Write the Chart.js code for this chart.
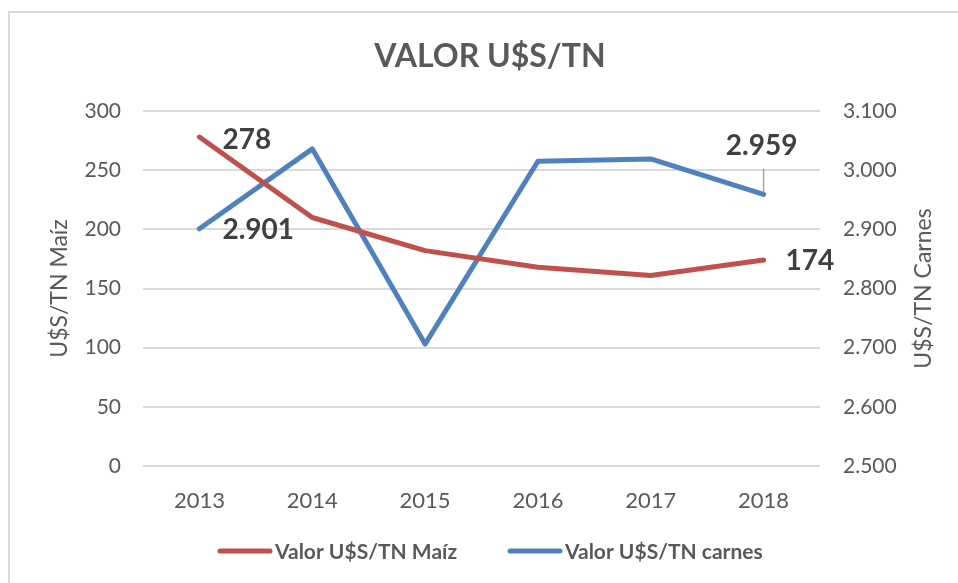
<!DOCTYPE html>
<html lang="es">
<head>
<meta charset="UTF-8">
<title>Valor U$S/TN</title>
<script src="https://cdn.jsdelivr.net/npm/chart.js"></script>
<style>
  html, body { margin: 0; padding: 0; background: #fff; }
  #wrap { width: 958px; height: 583px; }
</style>
</head>
<body>
<div id="wrap"><canvas id="chart" width="958" height="583"></canvas></div>
<script>
  const years = ['2013', '2014', '2015', '2016', '2017', '2018'];
  const maiz = [278, 210, 182, 168, 161, 174];
  const carnes = [2901, 3036, 2706, 3015, 3019, 2959];
  const maizTicks = [0, 300, 50];       // min, max, step
  const carnesTicks = [2500, 3100, 100];

  const RED = '#C0504D';
  const BLUE = '#4F81BD';
  const TXT = '#595959';
  const GRID = '#d9d9d9';
  const FONT = 'Lato, "Open Sans", sans-serif';

  const fmt = v => String(v).replace(/\B(?=(\d{3})+(?!\d))/g, '.');

  // title, axis titles, value labels, legend and frame
  const decor = {
    id: 'decor',
    afterDraw(chart) {
      const ctx = chart.ctx;
      const a = chart.chartArea;
      ctx.save();

      ctx.strokeStyle = GRID;
      ctx.lineWidth = 2;
      ctx.beginPath();
      ctx.moveTo(9, 583); ctx.lineTo(9, 12); ctx.lineTo(958, 12);
      ctx.stroke();

      ctx.fillStyle = TXT;
      ctx.textAlign = 'center';
      ctx.textBaseline = 'middle';
      ctx.font = 'bold 32px ' + FONT;
      ctx.fillText('VALOR U$S/TN', 490, 57);

      const midY = (a.top + a.bottom) / 2;
      ctx.font = '23px ' + FONT;
      [[60, 'U$S/TN Maíz'], [924, 'U$S/TN Carnes']].forEach(([x, t]) => {
        ctx.save();
        ctx.translate(x, midY);
        ctx.rotate(-Math.PI / 2);
        ctx.fillText(t, 0, 0);
        ctx.restore();
      });

      // value labels
      ctx.font = 'bold 28px ' + FONT;
      ctx.fillStyle = '#404040';
      const pt = (d, i) => chart.getDatasetMeta(d).data[i];
      const labels = [
        { d: 0, i: 0, dx: 23, dy: 3, align: 'left' },
        { d: 1, i: 0, dx: 23, dy: 1, align: 'left' },
        { d: 1, i: 5, dx: -2, dy: -48, align: 'center', leader: true },
        { d: 0, i: 5, dx: 22, dy: 1, align: 'left' }
      ];
      labels.forEach(l => {
        const p = pt(l.d, l.i);
        const v = chart.data.datasets[l.d].data[l.i];
        ctx.textAlign = l.align;
        ctx.fillText(fmt(v), p.x + l.dx, p.y + l.dy);
        if (l.leader) {
          ctx.strokeStyle = '#a6a6a6';
          ctx.lineWidth = 1.5;
          ctx.beginPath();
          ctx.moveTo(p.x, p.y + l.dy + 22);
          ctx.lineTo(p.x, p.y - 2);
          ctx.stroke();
        }
      });

      // legend
      ctx.font = 'bold 21px ' + FONT;
      ctx.fillStyle = TXT;
      ctx.textAlign = 'left';
      ctx.lineCap = 'round';
      ctx.lineWidth = 5;
      [[217, RED, chart.data.datasets[0].label], [507, BLUE, chart.data.datasets[1].label]].forEach(([x, c, t]) => {
        ctx.strokeStyle = c;
        ctx.beginPath();
        ctx.moveTo(x + 3, 551); ctx.lineTo(x + 53, 551);
        ctx.stroke();
        ctx.fillText(t, x + 58, 552);
      });
      ctx.restore();
    }
  };

  new Chart(document.getElementById('chart'), {
    type: 'line',
    data: {
      labels: years,
      datasets: [
        {
          label: 'Valor U$S/TN Maíz',
          data: maiz,
          yAxisID: 'y',
          borderColor: RED,
          backgroundColor: RED,
          borderWidth: 5,
          pointRadius: 0,
          borderCapStyle: 'round',
          borderJoinStyle: 'round',
          tension: 0
        },
        {
          label: 'Valor U$S/TN carnes',
          data: carnes,
          yAxisID: 'y1',
          borderColor: BLUE,
          backgroundColor: BLUE,
          borderWidth: 5,
          pointRadius: 0,
          borderCapStyle: 'round',
          borderJoinStyle: 'round',
          tension: 0
        }
      ]
    },
    options: {
      responsive: false,
      animation: false,
      layout: { padding: { top: 111, left: 0, right: 0, bottom: 0 } },
      plugins: {
        legend: { display: false },
        title: { display: false },
        tooltip: { enabled: false }
      },
      scales: {
        x: {
          offset: true,
          grid: { display: false },
          border: { display: false },
          ticks: { color: TXT, font: { family: FONT, size: 22 }, padding: 14 },
          afterFit: s => { s.height = 117; }
        },
        y: {
          position: 'left',
          min: maizTicks[0], max: maizTicks[1],
          grid: { color: GRID, lineWidth: 2, drawTicks: false },
          border: { display: false },
          ticks: { stepSize: maizTicks[2], color: TXT, font: { family: FONT, size: 21 }, padding: 22 },
          afterFit: s => { s.width = 143; }
        },
        y1: {
          position: 'right',
          min: carnesTicks[0], max: carnesTicks[1],
          grid: { drawOnChartArea: false, drawTicks: false },
          border: { display: false },
          ticks: { stepSize: carnesTicks[2], color: TXT, font: { family: FONT, size: 21 }, padding: 23, callback: v => fmt(v) },
          afterFit: s => { s.width = 138; }
        }
      }
    },
    plugins: [decor]
  });
</script>
</body>
</html>
